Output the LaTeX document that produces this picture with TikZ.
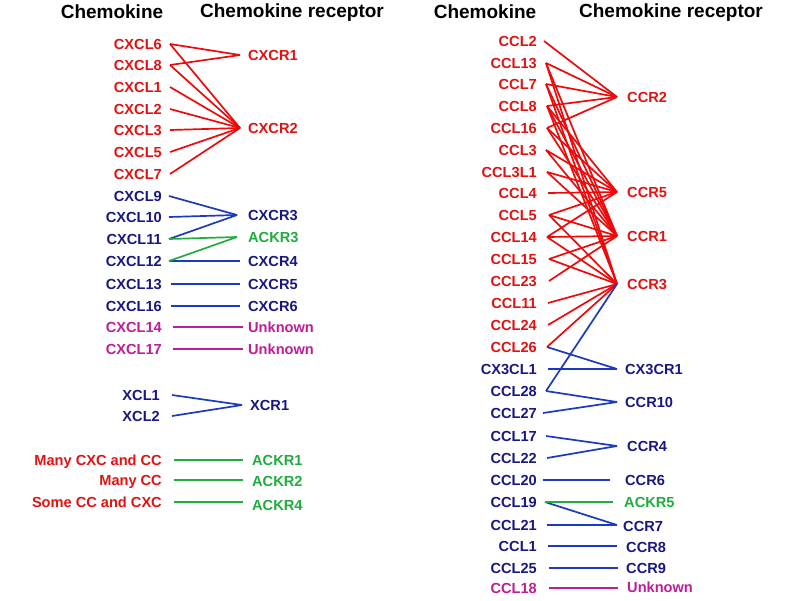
\documentclass[tikz,border=0pt]{standalone}
\usepackage{fontspec}
\setmainfont{Liberation Sans}
\usetikzlibrary{calc}
\definecolor{cred}{RGB}{226,18,18}
\definecolor{lred}{RGB}{238,10,10}
\definecolor{cnavy}{RGB}{24,24,130}
\definecolor{cblue}{RGB}{28,58,190}
\definecolor{cgreen}{RGB}{32,172,62}
\definecolor{cmag}{RGB}{190,30,150}
\newcommand\Lbl[6]{\node[lbl,text=#3,anchor=east] (#1) at (#4,#5) {#2};
  \coordinate (#1-o) at (#6,#5);}
\newcommand\Rcp[6]{\node[lbl,text=#3,anchor=west] (#1) at (#4,#5) {#2};
  \coordinate (#1-p) at (#6,#5);}
\begin{document}
\begin{tikzpicture}[x=1pt,y=-1pt,
  lbl/.style={font=\bfseries\fontsize{14.6}{16}\selectfont,inner sep=0pt,text height=10.4pt,text depth=0pt},
  hdr/.style={font=\bfseries\fontsize{19}{22}\selectfont,inner sep=0pt},
  link/.style={line width=1.7pt},
  rl/.style={link,draw=lred},
  bl/.style={link,draw=cblue},
  gl/.style={link,draw=cgreen},
  ml/.style={link,draw=cmag}]
\useasboundingbox[fill=white] (0,0) rectangle (800,600);
% headers
\node[hdr] (h1) at (112,12) {Chemokine};
\node[hdr] (h2) at (292,13) {Chemokine receptor};
\node[hdr] (h3) at (485,12) {Chemokine};
\node[hdr] (h4) at (671,13) {Chemokine receptor};
% ---------- CXC side ----------
\Lbl{CXCL6}{CXCL6}{cred}{162}{44}{170}
\Lbl{CXCL8}{CXCL8}{cred}{162}{65}{170}
\Lbl{CXCL1}{CXCL1}{cred}{162}{87}{170}
\Lbl{CXCL2}{CXCL2}{cred}{162}{109}{170}
\Lbl{CXCL3}{CXCL3}{cred}{162}{130}{170}
\Lbl{CXCL5}{CXCL5}{cred}{162}{152}{170}
\Lbl{CXCL7}{CXCL7}{cred}{162}{174}{170}
\Lbl{CXCL9}{CXCL9}{cnavy}{162}{196}{169}
\Lbl{CXCL10}{CXCL10}{cnavy}{162}{217}{169}
\Lbl{CXCL11}{CXCL11}{cnavy}{162}{239}{169}
\Lbl{CXCL12}{CXCL12}{cnavy}{162}{261}{169}
\Lbl{CXCL13}{CXCL13}{cnavy}{162}{284}{171}
\Lbl{CXCL16}{CXCL16}{cnavy}{162}{306}{171}
\Lbl{CXCL14}{CXCL14}{cmag}{162}{327}{173}
\Lbl{CXCL17}{CXCL17}{cmag}{162}{349}{173}
\Rcp{CXCR1}{CXCR1}{cred}{248}{55}{240}
\Rcp{CXCR2}{CXCR2}{cred}{248}{128}{240}
\Rcp{CXCR3}{CXCR3}{cnavy}{248}{215}{237}
\Rcp{ACKR3}{ACKR3}{cgreen}{248}{237}{237}
\Rcp{CXCR4}{CXCR4}{cnavy}{248}{261}{240}
\Rcp{CXCR5}{CXCR5}{cnavy}{248}{284}{240}
\Rcp{CXCR6}{CXCR6}{cnavy}{248}{306}{240}
\Rcp{U1}{Unknown}{cmag}{248}{327}{243}
\Rcp{U2}{Unknown}{cmag}{248}{349}{243}
\foreach \a/\b in {CXCL6/CXCR1,CXCL8/CXCR1,CXCL6/CXCR2,CXCL8/CXCR2,CXCL1/CXCR2,
  CXCL2/CXCR2,CXCL3/CXCR2,CXCL5/CXCR2,CXCL7/CXCR2}
  \draw[rl] (\a-o) -- (\b-p);
\foreach \a/\b in {CXCL9/CXCR3,CXCL10/CXCR3,CXCL11/CXCR3,CXCL12/CXCR4,CXCL13/CXCR5,CXCL16/CXCR6}
  \draw[bl] (\a-o) -- (\b-p);
\foreach \a/\b in {CXCL11/ACKR3,CXCL12/ACKR3}
  \draw[gl] (\a-o) -- (\b-p);
\draw[ml] (CXCL14-o) -- (U1-p);
\draw[ml] (CXCL17-o) -- (U2-p);
% XC
\Lbl{XCL1}{XCL1}{cnavy}{160}{395}{172}
\Lbl{XCL2}{XCL2}{cnavy}{160}{416}{172}
\Rcp{XCR1}{XCR1}{cnavy}{250}{405}{242}
\draw[bl] (XCL1-o) -- (XCR1-p);
\draw[bl] (XCL2-o) -- (XCR1-p);
% atypical
\Lbl{M1}{Many CXC and CC}{cred}{162}{460}{174}
\Lbl{M2}{Many CC}{cred}{162}{480}{174}
\Lbl{M3}{Some CC and CXC}{cred}{162}{502}{174}
\Rcp{ACKR1}{ACKR1}{cgreen}{252}{460}{243}
\Rcp{ACKR2}{ACKR2}{cgreen}{252}{481}{243}
\Rcp{ACKR4}{ACKR4}{cgreen}{252}{505}{243}
\coordinate (ACKR2-q) at (243,480);
\coordinate (ACKR4-q) at (243,502);
\draw[gl] (M1-o) -- (ACKR1-p);
\draw[gl] (M2-o) -- (ACKR2-q);
\draw[gl] (M3-o) -- (ACKR4-q);
% ---------- CC side ----------
\Lbl{CCL2}{CCL2}{cred}{537}{41}{544}
\Lbl{CCL13}{CCL13}{cred}{537}{63}{546}
\Lbl{CCL7}{CCL7}{cred}{537}{84}{546}
\Lbl{CCL8}{CCL8}{cred}{537}{106}{547}
\Lbl{CCL16}{CCL16}{cred}{537}{128}{547}
\Lbl{CCL3}{CCL3}{cred}{537}{150}{546}
\Lbl{CCL3L1}{CCL3L1}{cred}{537}{172}{547}
\Lbl{CCL4}{CCL4}{cred}{537}{193}{548}
\Lbl{CCL5}{CCL5}{cred}{537}{215}{549}
\Lbl{CCL14}{CCL14}{cred}{537}{237}{547}
\Lbl{CCL15}{CCL15}{cred}{537}{259}{549}
\Lbl{CCL23}{CCL23}{cred}{537}{281}{549}
\Lbl{CCL11}{CCL11}{cred}{537}{303}{548}
\Lbl{CCL24}{CCL24}{cred}{537}{325}{548}
\Lbl{CCL26}{CCL26}{cred}{537}{347}{547}
\Lbl{CX3CL1}{CX3CL1}{cnavy}{537}{369}{548}
\Lbl{CCL28}{CCL28}{cnavy}{537}{391}{546}
\Lbl{CCL27}{CCL27}{cnavy}{537}{413}{543}
\Lbl{CCL17}{CCL17}{cnavy}{537}{436}{546}
\Lbl{CCL22}{CCL22}{cnavy}{537}{458}{547}
\Lbl{CCL20}{CCL20}{cnavy}{537}{480}{543}
\Lbl{CCL19}{CCL19}{cnavy}{537}{502}{545}
\Lbl{CCL21}{CCL21}{cnavy}{537}{525}{547}
\Lbl{CCL1}{CCL1}{cnavy}{537}{546}{548}
\Lbl{CCL25}{CCL25}{cnavy}{537}{568}{549}
\Lbl{CCL18}{CCL18}{cmag}{537}{588}{549}
\Rcp{CCR2}{CCR2}{cred}{627}{97}{617}
\Rcp{CCR5}{CCR5}{cred}{627}{192}{617}
\Rcp{CCR1}{CCR1}{cred}{627}{236}{617}
\Rcp{CCR3}{CCR3}{cred}{627}{284}{617}
\Rcp{CX3CR1}{CX3CR1}{cnavy}{625}{369}{617}
\Rcp{CCR10}{CCR10}{cnavy}{625}{402}{617}
\Rcp{CCR4}{CCR4}{cnavy}{627}{446}{617}
\Rcp{CCR6}{CCR6}{cnavy}{625}{480}{610}
\Rcp{ACKR5}{ACKR5}{cgreen}{624}{502}{613}
\Rcp{CCR7}{CCR7}{cnavy}{623}{526}{617}
\Rcp{CCR8}{CCR8}{cnavy}{626}{547}{617}
\Rcp{CCR9}{CCR9}{cnavy}{626}{568}{618}
\Rcp{U3}{Unknown}{cmag}{627}{587}{618}
\coordinate (CCR7-q) at (617,525);
\coordinate (CCR8-q) at (617,546);
\coordinate (U3-q) at (618,588);
\foreach \a in {CCL2,CCL13,CCL7,CCL8,CCL16}
  \draw[rl] (\a-o) -- (CCR2-p);
\foreach \a in {CCL3,CCL3L1,CCL4,CCL5,CCL8,CCL14,CCL16}
  \draw[rl] (\a-o) -- (CCR5-p);
\foreach \a in {CCL3,CCL3L1,CCL5,CCL7,CCL8,CCL13,CCL14,CCL15,CCL16,CCL23}
  \draw[rl] (\a-o) -- (CCR1-p);
\foreach \a in {CCL5,CCL7,CCL8,CCL11,CCL13,CCL14,CCL15,CCL24,CCL26}
  \draw[rl] (\a-o) -- (CCR3-p);
\foreach \a/\b in {CCL26/CX3CR1,CX3CL1/CX3CR1,CCL28/CCR3,CCL28/CCR10,CCL27/CCR10,
  CCL17/CCR4,CCL22/CCR4,CCL20/CCR6,CCL25/CCR9}
  \draw[bl] (\a-o) -- (\b-p);
\draw[bl] (CCL19-o) -- (CCR7-q);
\draw[bl] (CCL21-o) -- (CCR7-q);
\draw[bl] (CCL1-o) -- (CCR8-q);
\draw[gl] (CCL19-o) -- (ACKR5-p);
\draw[ml] (CCL18-o) -- (U3-q);
\end{tikzpicture}
\end{document}
